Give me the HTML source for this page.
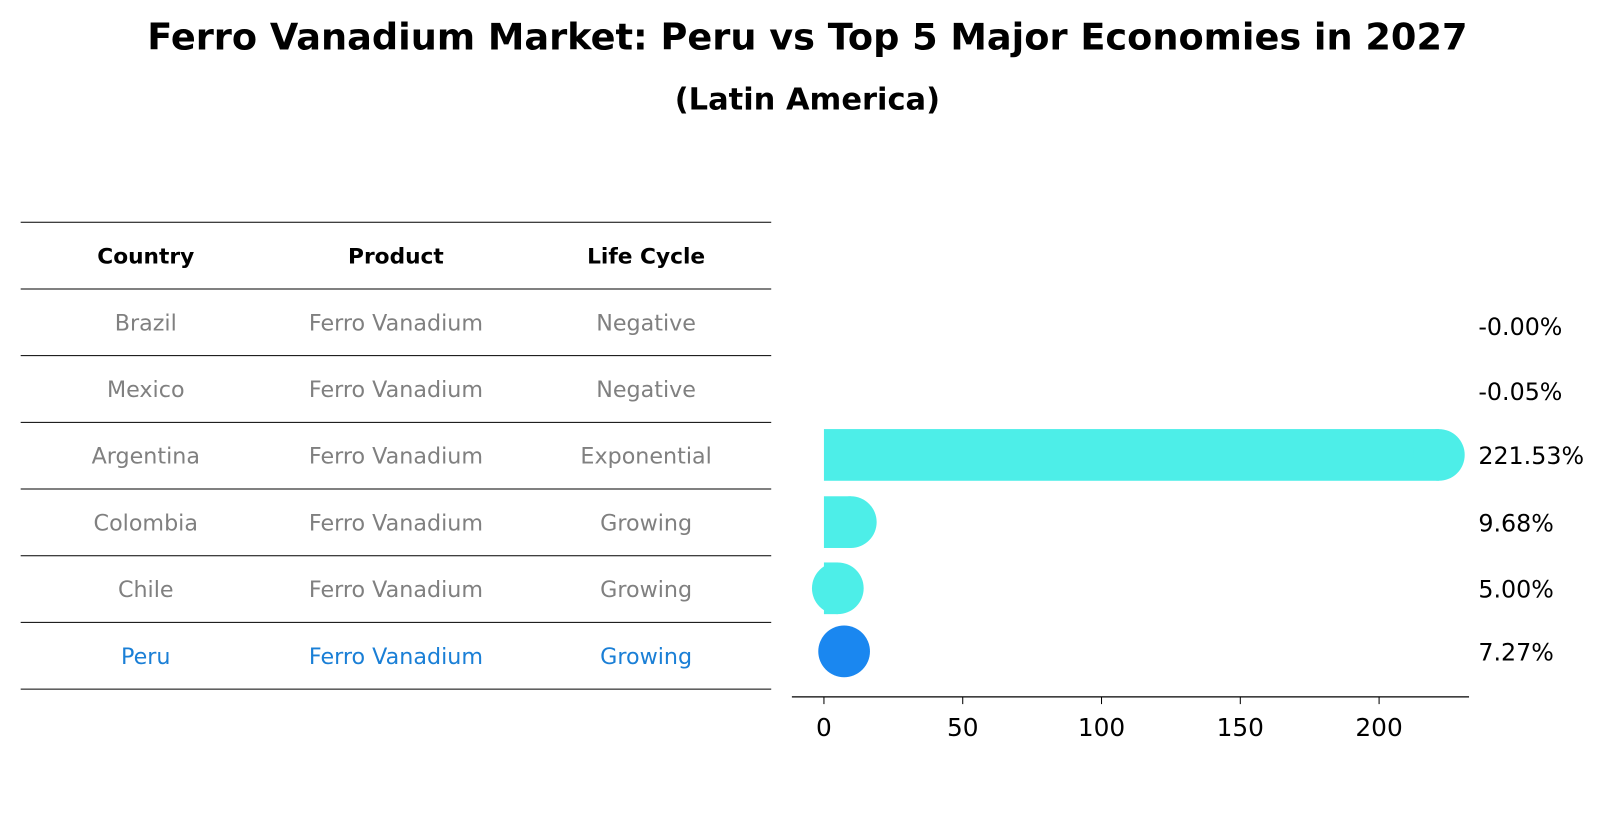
<!DOCTYPE html>
<html><head><meta charset="utf-8"><style>
body{margin:0;background:#fff;font-family:"Liberation Sans","DejaVu Sans",sans-serif}
svg text{font-family:"DejaVu Sans","Liberation Sans",sans-serif}
</style></head><body>
<svg id="c" width="1621" height="823" viewBox="0 0 1568 796" preserveAspectRatio="none" xmlns="http://www.w3.org/2000/svg">
<text x="781" y="48" text-anchor="middle" font-size="35.5" font-weight="bold">Ferro Vanadium Market: Peru vs Top 5 Major Economies in 2027</text>
<text x="781" y="106" text-anchor="middle" font-size="29.5" font-weight="bold">(Latin America)</text>
<g id="table"></g>
<g id="bars"></g>
</svg>
<script>
const countries=["Brazil","Mexico","Argentina","Colombia","Chile","Peru"];
const products=["Ferro Vanadium","Ferro Vanadium","Ferro Vanadium","Ferro Vanadium","Ferro Vanadium","Ferro Vanadium"];
const lifeCycles=["Negative","Negative","Exponential","Growing","Growing","Growing"];
const growth=[-0.00,-0.05,221.53,9.68,5.00,7.27];
const growthLabels=["-0.00%","-0.05%","221.53%","9.68%","5.00%","7.27%"];
const xTicks=[0,50,100,150,200];
const NS="http://www.w3.org/2000/svg";
function mk(t,a,p,txt){const e=document.createElementNS(NS,t);for(const k in a)e.setAttribute(k,a[k]);if(txt!==undefined)e.textContent=txt;p.appendChild(e);return e;}
const tb=document.getElementById('table'),bg=document.getElementById('bars');
const ruleY=i=>215+i*64.5;
const colX=[141,383,625];
for(let i=0;i<=7;i++){
 const ln=mk('line',{x1:20,x2:746,y1:ruleY(i),y2:ruleY(i),stroke:'#000','stroke-width':1},tb);
 
 
}
["Country","Product","Life Cycle"].forEach((h,j)=>{const t=mk('text',{x:colX[j],y:255,'text-anchor':'middle','font-size':21,'font-weight':'bold'},tb,h);

});
for(let i=0;i<countries.length;i++){
 const y=ruleY(i+1)+32+8;
 const col=countries[i]==="Peru"?'#1a7fd6':'#808080';
 [countries[i],products[i],lifeCycles[i]].forEach((v,j)=>{const t=mk('text',{x:colX[j],y:y,'text-anchor':'middle','font-size':21.5,fill:col},tb,v);
 
 });
}
// bars
const x=v=>797+v*(1334-797)/200;
const ax=mk('line',{x1:766,x2:1421,y1:674,y2:674,stroke:'#000','stroke-width':1.3},bg);


xTicks.forEach(v=>{const t=mk('line',{x1:x(v),x2:x(v),y1:674,y2:681,stroke:'#000'},bg);


const tl=mk('text',{x:x(v),y:712,'text-anchor':'middle','font-size':24},bg,v);

});
const barY=[316,379,440,505,569,630];
growth.forEach((v,i)=>{
 const y=barY[i], c=countries[i]==="Peru"?'#1a87f0':'#4deee8';
 const x0=x(0),x1=x(v),h=50;
 if(Math.abs(v)>0.5){
  if(countries[i]!=="Peru"){
  const r=mk('rect',{x:Math.min(x0,x1),y:y-h/2,width:Math.abs(x1-x0),height:h,fill:c},bg);
  
  
  }
  const ci=mk('circle',{cx:x1,cy:y,r:h/2,fill:c},bg);
  
  
 }
 const t=mk('text',{x:1430,y:barY[i]+(i<2?0:1)+8,'font-size':23},bg,growthLabels[i]);
 
 
});
</script>
</body></html>
